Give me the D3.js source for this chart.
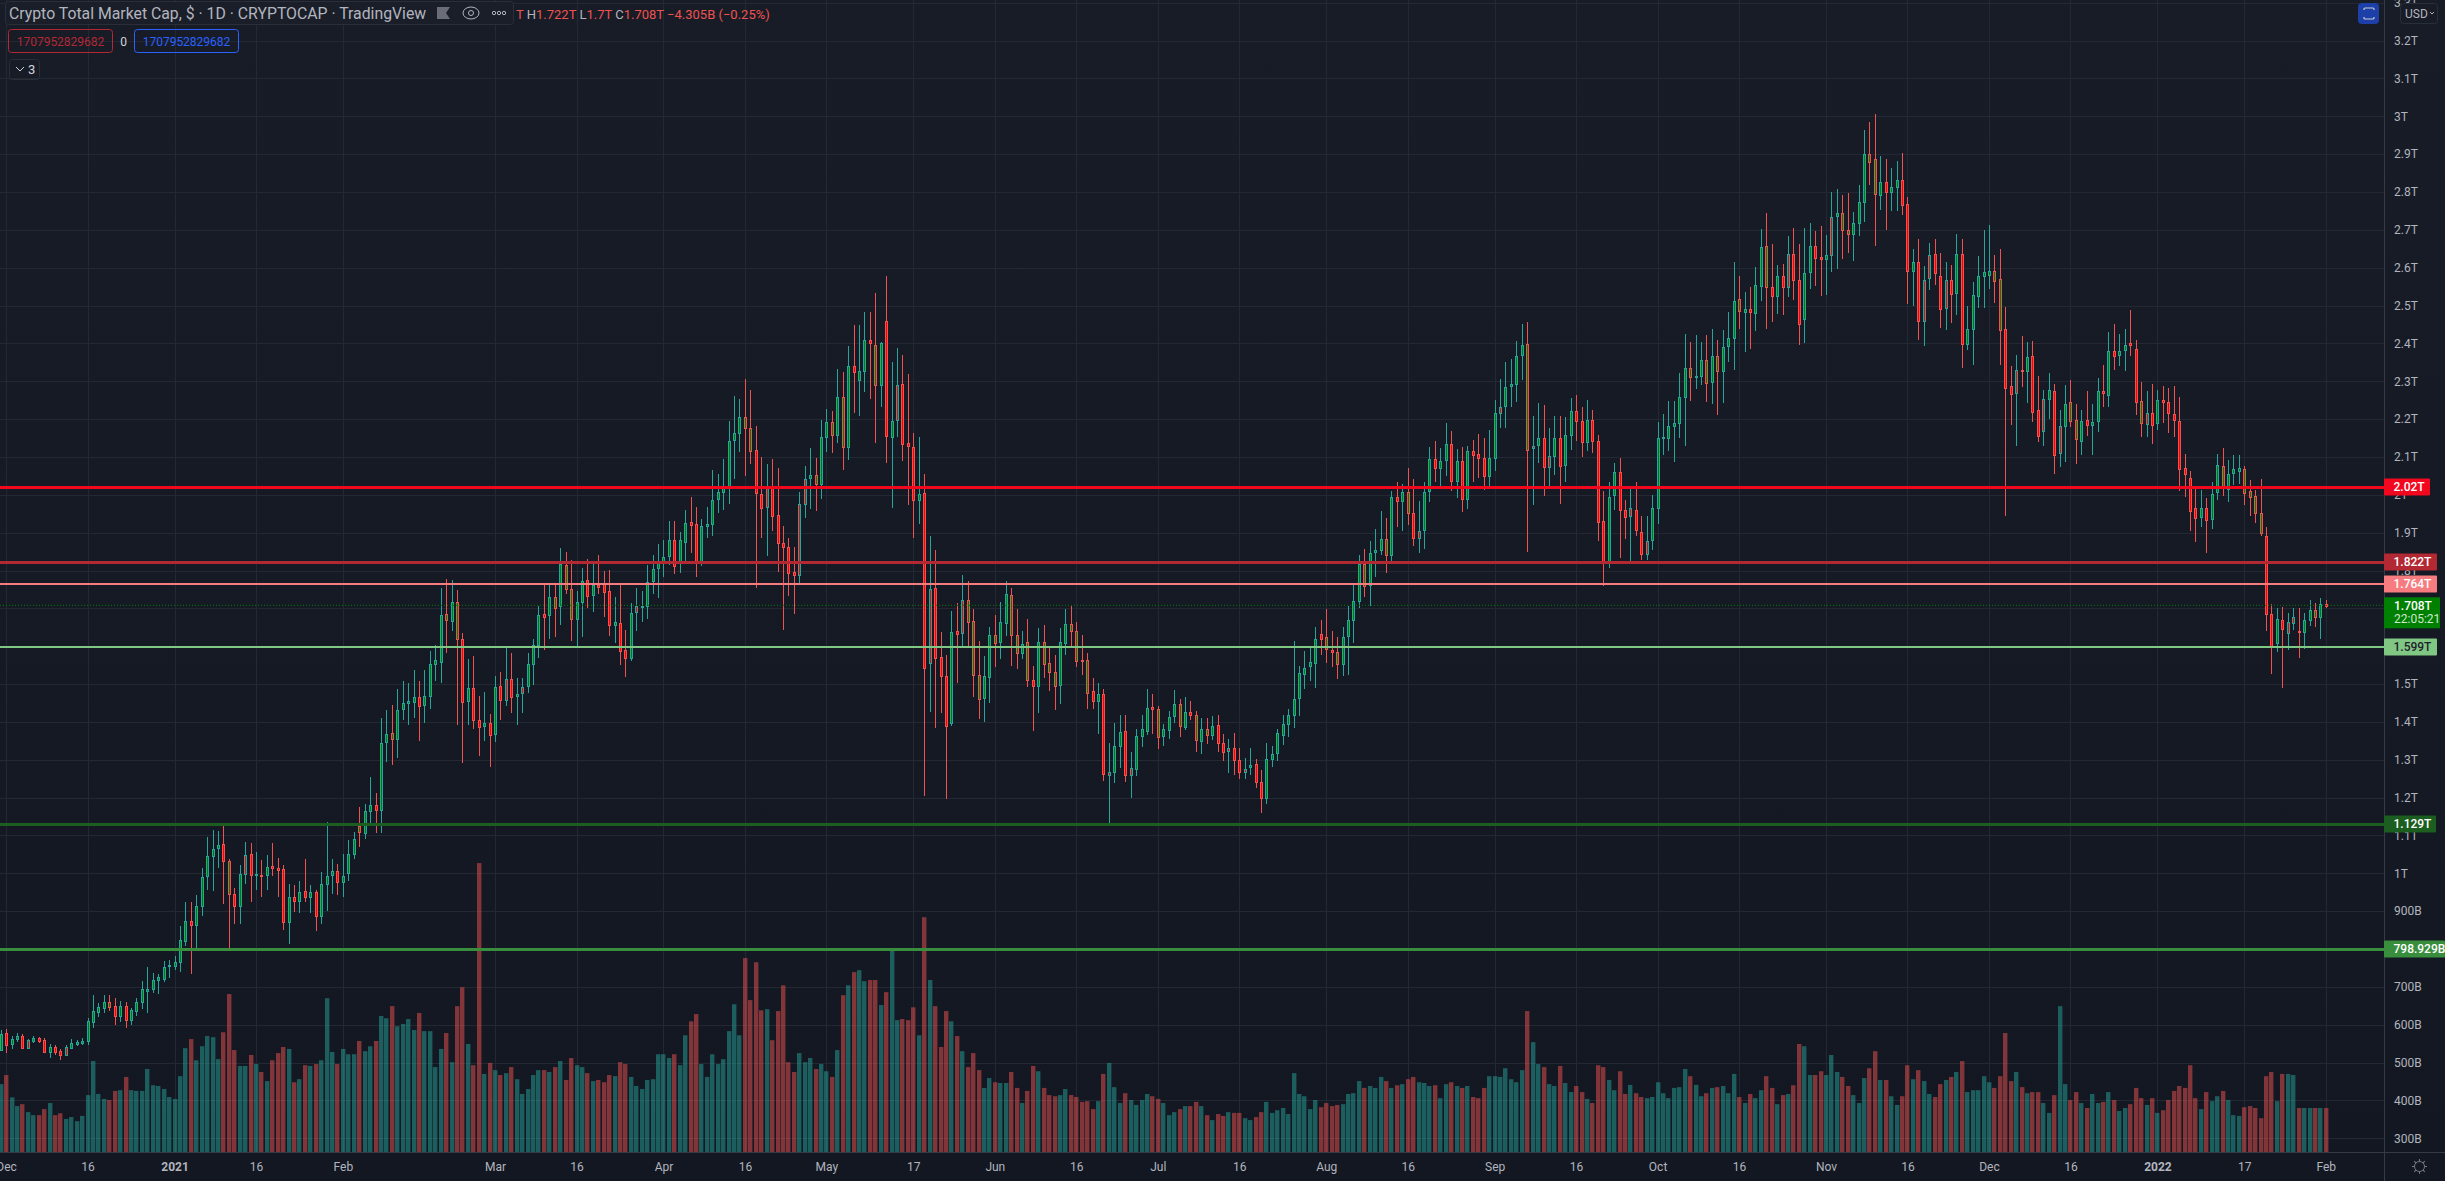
<!DOCTYPE html>
<html>
<head>
<meta charset="utf-8">
<title>Crypto Total Market Cap</title>
<script src="https://cdn.jsdelivr.net/npm/d3@7"></script>
<style>
html, body { margin: 0; padding: 0; background: #131722; overflow: hidden; }
text { font-family: Roboto, "Open Sans", sans-serif; }
</style>
</head>
<body>
<svg id="chart"></svg>
<script>
// one candle per day, 2020-11-30 to 2022-02-01, values in billions of USD
const highs = [
587,589,570,577,576,563,570,567,565,549, 547,535,547,562,560,564,619,678,657,678,
678,670,662,661,644,670,715,752,737,733, 768,770,782,862,925,925,943,1013,1095,1114,
1111,1129,1039,960,1022,1082,1080,1057,1034,1048, 1080,1041,1022,973,969,979,1037,969,957,1003,
1135,1037,1024,1050,1088,1110,1175,1182,1254,1211, 1410,1432,1444,1488,1508,1503,1537,1507,1537,1586,
1602,1753,1777,1775,1749,1635,1567,1574,1468,1478, 1421,1520,1532,1600,1582,1517,1517,1582,1620,1706,
1765,1766,1763,1860,1848,1829,1745,1806,1831,1816, 1842,1800,1802,1731,1764,1642,1713,1753,1746,1814,
1842,1871,1880,1930,1932,1903,1959,1994,1967,1935, 1969,2065,2056,2094,2196,2260,2254,2305,2276,2183,
2099,2081,2094,2072,1918,1887,1862,2007,2076,2124, 2098,2198,2227,2222,2332,2325,2392,2448,2448,2482,
2482,2533,2403,2577,2350,2387,2370,2318,2163,2154, 2056,1890,1853,1637,1577,1694,1715,1787,1771,1698,
1613,1573,1650,1682,1716,1771,1753,1699,1640,1673, 1547,1649,1655,1598,1577,1647,1698,1707,1663,1629,
1581,1517,1504,1487,1344,1396,1418,1418,1320,1380, 1419,1486,1473,1443,1394,1430,1485,1461,1467,1454,
1428,1411,1409,1415,1419,1368,1355,1370,1330,1304, 1331,1301,1272,1344,1337,1380,1417,1435,1613,1549,
1586,1595,1650,1668,1698,1639,1624,1650,1707,1768, 1840,1856,1878,1909,1957,1940,2009,2035,2029,2072,
2042,1983,2035,2127,2141,2123,2189,2168,2120,2127, 2130,2144,2160,2150,2171,2250,2305,2352,2358,2407,
2451,2456,2207,2242,2237,2176,2209,2207,2205,2257, 2263,2231,2250,2223,2159,2009,2033,2083,2096,1987,
2022,2035,1943,1943,2000,2192,2214,2247,2247,2322, 2426,2403,2423,2405,2421,2437,2408,2435,2482,2615,
2577,2537,2550,2601,2703,2744,2663,2608,2611,2683, 2704,2663,2704,2717,2697,2709,2686,2800,2809,2793,
2797,2746,2819,2964,2985,3007,2894,2888,2864,2881, 2904,2788,2650,2677,2605,2666,2676,2638,2615,2606,
2688,2675,2498,2563,2630,2699,2712,2633,2649,2495, 2340,2370,2419,2405,2407,2314,2276,2322,2294,2223,
2289,2302,2239,2225,2274,2241,2309,2342,2430,2451, 2424,2438,2487,2408,2297,2274,2292,2276,2287,2281,
2287,2258,2107,2062,2017,2014,1991,2033,2109,2123, 2091,2104,2104,2075,2038,2013,2043,1916,1712,1700,
1703,1689,1701,1700,1687,1721,1715,1728,1722
];
const lows = [
530,524,536,553,536,536,551,552,526,511, 520,507,518,536,544,546,546,591,621,632,
637,599,606,592,599,622,642,630,683,680, 714,724,744,740,807,735,800,886,957,953,
1013,920,803,866,865,973,923,957,937,957, 992,937,850,812,897,894,923,894,847,866,
901,946,942,938,980,1039,1069,1090,1127,1106, 1106,1293,1285,1305,1405,1393,1409,1350,1396,1435,
1509,1502,1582,1639,1391,1291,1391,1382,1310,1349, 1280,1346,1406,1442,1423,1393,1423,1477,1497,1570,
1591,1619,1624,1655,1738,1614,1594,1624,1701,1690, 1739,1677,1627,1608,1550,1519,1561,1640,1663,1671,
1738,1728,1782,1815,1790,1793,1817,1845,1782,1811, 1886,1891,1952,1959,1975,2041,2112,2050,2082,1755,
1886,1837,1905,1796,1642,1732,1686,1763,1940,1962, 1957,1988,2112,2110,2136,2066,2092,2216,2208,2272,
2254,2137,2231,2083,1966,2152,2089,1973,1885,1922, 1203,1426,1384,1423,1195,1390,1504,1600,1595,1465,
1407,1399,1450,1544,1566,1627,1549,1539,1565,1491, 1376,1423,1516,1481,1431,1447,1576,1595,1544,1524,
1433,1433,1367,1243,1127,1238,1279,1241,1199,1256, 1335,1366,1367,1328,1336,1354,1396,1359,1378,1405,
1320,1316,1342,1352,1320,1296,1264,1260,1250,1249, 1260,1226,1160,1183,1280,1296,1339,1360,1385,1416,
1488,1508,1489,1577,1556,1544,1514,1522,1524,1608, 1700,1729,1707,1782,1840,1793,1824,1914,1904,1919,
1864,1845,1858,1981,2033,2021,2050,2010,1992,1955, 1963,2034,2044,2012,2022,2063,2176,2176,2232,2244,
2302,1849,1974,2083,1997,2021,2052,1975,2035,2118, 2141,2099,2116,2110,1878,1759,1807,1960,1832,1883,
1824,1892,1827,1827,1853,1922,2105,2117,2087,2151, 2128,2248,2280,2290,2245,2240,2210,2242,2350,2329,
2439,2377,2384,2433,2512,2438,2456,2477,2474,2522, 2514,2395,2400,2544,2551,2525,2527,2589,2596,2622,
2638,2618,2685,2721,2818,2657,2752,2699,2749,2749, 2739,2503,2499,2410,2393,2542,2554,2440,2435,2453,
2476,2335,2383,2343,2493,2493,2544,2506,2343,1945, 2184,2128,2284,2242,2192,2139,2128,2200,2055,2074,
2087,2178,2082,2104,2155,2104,2165,2233,2233,2329, 2340,2327,2366,2211,2152,2152,2133,2171,2190,2164,
2153,2009,1994,1904,1875,1914,1845,1909,1986,1996, 1980,2026,2028,1974,1944,1926,1890,1640,1527,1584,
1489,1590,1642,1569,1592,1653,1650,1619,1700
];
const opens = [
534,577,548,562,570,559,556,564,560,528, 541,531,540,539,550,553,555,607,634,644,
648,650,623,649,613,637,658,689,693,717, 721,754,755,765,821,873,862,913,992,1045,
1065,1077,945,945,913,1048,1050,995,996,995, 1019,1015,1011,871,937,926,952,937,950,886,
971,995,1005,976,999,1051,1107,1108,1163,1180, 1167,1346,1355,1355,1434,1452,1455,1467,1444,1468,
1553,1560,1668,1668,1618,1619,1455,1489,1404,1388, 1397,1368,1494,1513,1513,1470,1491,1494,1553,1605,
1685,1681,1700,1704,1751,1673,1673,1716,1775,1737, 1763,1765,1746,1656,1662,1589,1571,1707,1704,1707,
1772,1807,1822,1838,1880,1818,1876,1927,1924,1825, 1918,1923,1989,2008,2023,2145,2164,2177,2116,2119,
2003,2024,2024,1947,1873,1862,1795,1977,2042,2042, 2028,2031,2153,2159,2159,2126,2126,2339,2303,2328,
2409,2290,2290,2460,2155,2291,2293,2137,2127,1986, 2006,1752,1754,1572,1522,1397,1641,1723,1666,1524,
1461,1463,1519,1610,1611,1661,1630,1582,1582,1509, 1512,1495,1553,1532,1495,1497,1608,1640,1563,1564,
1478,1482,1455,1474,1268,1268,1336,1377,1279,1277, 1362,1378,1439,1362,1362,1378,1416,1389,1388,1427,
1350,1349,1365,1365,1392,1345,1330,1330,1300,1276, 1281,1289,1242,1199,1304,1316,1367,1394,1419,1461,
1528,1548,1556,1633,1591,1591,1553,1553,1625,1669, 1720,1760,1762,1849,1854,1841,1841,1994,1984,1952,
1952,1905,1907,2009,2094,2071,2092,2135,2036,2088, 1989,2116,2108,2098,2050,2099,2233,2235,2287,2293,
2369,2118,2129,2131,2151,2103,2103,2151,2079,2159, 2222,2196,2141,2198,2143,1931,1825,1998,2059,1959,
1964,1961,1903,1879,1879,1966,2150,2151,2182,2190, 2259,2311,2314,2314,2295,2298,2328,2328,2393,2414,
2483,2483,2492,2480,2554,2549,2550,2527,2579,2637, 2637,2568,2465,2589,2658,2628,2623,2735,2737,2700,
2689,2689,2719,2773,2880,2793,2793,2827,2801,2814, 2833,2769,2591,2614,2568,2634,2637,2579,2568,2568,
2531,2637,2400,2439,2527,2578,2582,2564,2436,2439, 2288,2331,2331,2328,2368,2225,2252,2254,2275,2183,
2183,2195,2148,2143,2198,2184,2195,2273,2266,2381, 2371,2383,2400,2386,2190,2217,2217,2190,2250,2244,
2214,2196,2072,2045,1966,1941,1964,1936,2008,2018, 2017,2056,2063,2005,1995,1952,1898,1890,1686,1609,
1670,1664,1678,1639,1638,1669,1677,1677,1712
];
const closes = [
575,546,562,570,539,539,565,556,528,540, 528,520,520,551,555,557,609,636,647,661,
661,623,650,613,639,661,693,695,717,725, 752,757,765,824,873,862,913,990,1045,1063,
1074,1031,1032,913,997,998,995,998,993,1016, 1013,1009,871,937,926,950,937,950,886,971,
992,1006,976,992,1050,1090,1124,1165,1180,1168, 1344,1367,1370,1431,1450,1456,1467,1444,1468,1553,
1563,1683,1685,1717,1717,1452,1489,1404,1386,1397, 1364,1491,1457,1457,1465,1475,1476,1553,1602,1683,
1678,1729,1730,1816,1815,1751,1718,1772,1734,1763, 1758,1745,1657,1663,1588,1569,1689,1691,1706,1770,
1805,1823,1836,1880,1812,1880,1926,1920,1825,1918, 1922,1987,2008,2021,2143,2164,2205,2206,2177,2005,
1966,1968,1946,1873,1862,1794,1788,1789,1975,2051, 2051,2154,2193,2193,2259,2259,2339,2323,2328,2409,
2401,2396,2400,2155,2196,2198,2134,2128,1986,2003, 1543,1556,1568,1521,1389,1638,1632,1635,1723,1667,
1525,1520,1630,1630,1665,1737,1736,1630,1607,1610, 1495,1610,1610,1555,1533,1610,1659,1659,1641,1563,
1564,1455,1474,1262,1260,1337,1374,1262,1260,1364, 1380,1438,1434,1435,1380,1413,1448,1448,1427,1418,
1417,1382,1382,1390,1345,1320,1321,1299,1267,1268, 1285,1242,1199,1302,1316,1370,1395,1419,1461,1528,
1543,1559,1620,1620,1623,1585,1585,1625,1668,1720, 1818,1818,1847,1853,1884,1884,1994,1984,2007,2007,
1886,1887,2007,2094,2071,2090,2135,2036,2088,1988, 2116,2105,2097,2050,2098,2217,2218,2286,2292,2368,
2396,2399,2124,2149,2074,2074,2151,2077,2159,2222, 2195,2141,2198,2143,1928,1822,1995,2059,1958,1941,
1944,1907,1844,1844,1964,2151,2152,2182,2191,2259, 2336,2336,2315,2357,2355,2368,2368,2391,2415,2511,
2516,2492,2483,2555,2656,2658,2527,2579,2551,2550, 2568,2452,2587,2658,2627,2623,2634,2635,2745,2745,
2700,2717,2774,2901,2901,2886,2827,2801,2814,2833, 2768,2591,2614,2457,2459,2574,2586,2493,2493,2531,
2635,2400,2439,2529,2579,2588,2592,2590,2571,2282, 2267,2269,2328,2365,2219,2156,2167,2278,2105,2111,
2241,2244,2198,2196,2186,2193,2275,2268,2381,2369, 2381,2396,2395,2247,2247,2187,2185,2250,2246,2216,
2197,2070,2055,1957,1939,1964,1932,2003,2080,2077, 2056,2067,2072,2069,2011,1998,1952,1683,1600,1672,
1647,1635,1663,1637,1669,1695,1695,1712,1708
];
// volume pane values, read against the price axis on the right
const volumes = [
443,467,408,385,390,369,361,361,377,393, 361,366,351,356,345,359,414,504,417,404,
401,425,427,462,427,425,425,483,440,438, 430,409,404,464,538,562,506,543,570,567,
509,580,681,533,491,491,520,496,475,451, 506,525,541,536,448,456,493,491,496,506,
670,528,496,536,522,522,557,530,543,557, 623,617,649,596,602,615,586,631,583,583,
488,536,578,501,649,699,549,493,1027,470, 499,480,467,472,488,456,417,430,467,480,
480,475,488,504,454,512,493,488,472,451, 454,448,467,464,501,496,462,438,430,454,
456,522,522,512,522,493,572,609,628,496, 462,522,496,509,583,654,572,776,665,765,
638,641,559,636,704,501,475,525,501,512, 483,496,477,462,533,678,704,739,744,715,
718,718,652,686,800,612,615,612,646,572, 884,718,649,541,636,609,570,530,488,525,
480,433,459,448,446,446,475,433,393,425, 491,477,433,414,411,414,430,414,409,396,
398,377,398,470,499,435,393,419,401,388, 401,417,411,404,393,361,369,377,385,385,
396,385,361,348,364,359,369,367,367,353, 348,356,369,396,367,374,380,364,472,417,
411,377,401,382,393,385,388,390,417,419, 451,433,438,433,462,451,433,440,443,456,
462,448,446,438,440,406,443,448,438,433, 438,409,406,433,464,464,462,485,456,448,
480,636,554,496,488,443,438,491,446,422, 438,422,404,393,493,488,454,427,477,417,
441,419,409,406,409,448,419,406,433,435, 483,464,441,411,419,433,435,438,419,470,
409,393,417,406,427,464,433,390,414,417, 440,549,543,467,467,477,467,520,475,462,
438,414,393,459,485,530,454,454,411,388, 411,493,456,480,451,417,409,443,454,462,
475,504,422,427,427,464,448,433,464,578, 451,475,435,419,422,422,393,367,414,649,
443,401,422,393,380,417,393,396,422,401, 372,380,390,433,406,388,406,367,374,401,
425,438,433,493,406,377,422,398,411,425, 401,361,359,382,385,380,353,464,475,398,
470,470,467,380,380,380,380,380,380
];
// r / t = colour of wick, border and volume bar
const barSides = (
'trttrttrrt rrtttttttt rrtrtttttt tttttrtttt trrrttrtrt rrrtrtrtrt ttrtttrttr ttrttttrtt ttrtrrtrrt rtrtrttttt ' +
'rtrtrrttrt rrrtrrtttt ttttrttrrt tttttttrrr rtrrrrrttt rttrtrtrtt rrtrttrrrt rtrrrtrtrr rttrttrrtr rtrrrttrrr ' +
'rrtrtttrtt ttrrtttrtr rtrtrrtrrt trrttttttt tttrrrrttt trtttrtrtr rtttrttrtr trrrtttttt trttrttrtt rrtrrrttrr ' +
'trrttttttt trttrtrttt rtrttrrtrt rrttrrtttr rtttrrtrtt rrtrttrrtr trtttttrrr rtrtrrttrt trrtrttrtr ttrrrtrtrr ' +
'rrrrrtrttr tttrrrrrrt rttrttrtr'
).replace(/ /g, '').split('');

const priceTicks = [3300,3200,3100,3000,2900,2800,2700,2600,2500,2400,2300,2200,2100,2000,1900,1800,1700,1600,1500,1400,1300,1200,1100,1000,900,800,700,600,500,400,300];
const timeTickDates = ['2020-12-01','2020-12-16','2021-01-01','2021-01-16','2021-02-01','2021-03-01','2021-03-16','2021-04-01','2021-04-16','2021-05-01','2021-05-17','2021-06-01','2021-06-16','2021-07-01','2021-07-16','2021-08-01','2021-08-16','2021-09-01','2021-09-16','2021-10-01','2021-10-16','2021-11-01','2021-11-16','2021-12-01','2021-12-16','2022-01-01','2022-01-17','2022-02-01'];
const timeTickLabels = ['Dec','16','2021','16','Feb','Mar','16','Apr','16','May','17','Jun','16','Jul','16','Aug','16','Sep','16','Oct','16','Nov','16','Dec','16','2022','17','Feb'];

// horizontal levels drawn on the chart
const levelValues = [2020, 1822, 1764, 1599, 1129, 798.929];
const levelLabels = ['2.02T', '1.822T', '1.764T', '1.599T', '1.129T', '798.929B'];
const levelColors = ['#f2081e', '#b22833', '#f77c80', '#81c784', '#1b5e20', '#388e3c'];
const levelTextColors = ['#fff', '#fff', '#fff', '#1e222d', '#fff', '#fff'];
const levelWidths = [3, 3, 2, 2, 3, 3];
const levelBoxWidths = [46, 53, 53, 53, 52, 61];

const width = 2445, height = 1181;
const plotRight = 2384, paneBottom = 1152;
const RED = '#ef5350', TEAL = '#26a69a', GRID = '#242833', BORDER = '#363a45', AXIS_TEXT = '#b2b5be';

const parseDay = d3.utcParse('%Y-%m-%d');
const firstDay = parseDay('2020-11-30');
const days = d3.utcDay.range(firstDay, d3.utcDay.offset(firstDay, opens.length));

const x = d3.scaleUtc().domain([firstDay, days[days.length - 1]]).range([0.67, 2325.8]);
const y = d3.scaleLinear().domain([3000, 300]).range([116.3, 1138.25]);
const fmtPrice = (v) => v >= 1000 ? (v / 1000) + 'T' : v + 'B';

const svg = d3.select('#chart').attr('width', width).attr('height', height).style('display', 'block');

const defs = svg.append('defs');
const grad = defs.append('linearGradient').attr('id', 'bg').attr('x1', 0).attr('x2', 0).attr('y1', 0).attr('y2', 1);
grad.append('stop').attr('offset', 0).attr('stop-color', '#181c27');
grad.append('stop').attr('offset', 1).attr('stop-color', '#131722');
defs.append('clipPath').attr('id', 'plot').append('rect').attr('width', plotRight).attr('height', paneBottom);

svg.append('rect').attr('width', width).attr('height', height).attr('fill', 'url(#bg)');

// grid
const timeTicks = timeTickDates.map(parseDay);
svg.append('g').attr('class', 'grid').attr('transform', `translate(0,${paneBottom})`)
	.call(d3.axisBottom(x).tickValues(timeTicks).tickSize(-paneBottom).tickFormat(''));
svg.append('g').attr('class', 'grid').attr('transform', `translate(${plotRight},0)`)
	.call(d3.axisLeft(y).tickValues(priceTicks).tickSize(plotRight).tickFormat(''));
svg.selectAll('.grid .domain').remove();
svg.selectAll('.grid line').attr('stroke', GRID).attr('shape-rendering', 'crispEdges');

const plot = svg.append('g').attr('clip-path', 'url(#plot)');

// volume
const bars = d3.range(opens.length);
plot.append('g').selectAll('rect').data(bars).join('rect')
	.attr('x', (i) => Math.round(x(days[i])) - 2)
	.attr('width', 4.4)
	.attr('y', (i) => y(volumes[i]))
	.attr('height', (i) => paneBottom - y(volumes[i]))
	.attr('fill', (i) => barSides[i] === 'r' ? RED : TEAL)
	.attr('fill-opacity', 0.5);

// candles
const candle = plot.append('g').selectAll('g').data(bars).join('g')
	.attr('transform', (i) => `translate(${Math.round(x(days[i]))},0)`);
candle.append('line')
	.attr('x1', 0.5).attr('x2', 0.5)
	.attr('y1', (i) => y(highs[i])).attr('y2', (i) => y(lows[i]))
	.attr('stroke', (i) => barSides[i] === 'r' ? RED : TEAL)
	.attr('shape-rendering', 'crispEdges');
candle.append('rect')
	.attr('x', -0.5).attr('width', 2)
	.attr('y', (i) => Math.round(y(Math.max(opens[i], closes[i]))) + 0.5)
	.attr('height', (i) => Math.max(1, Math.round(Math.abs(y(opens[i]) - y(closes[i])))))
	.attr('fill', (i) => closes[i] >= opens[i] ? '#008000' : '#ff0000')
	.attr('stroke', (i) => barSides[i] === 'r' ? RED : TEAL)
	.attr('shape-rendering', 'crispEdges');

// last price
const lastClose = closes[closes.length - 1];
plot.append('line').attr('x1', 0).attr('x2', plotRight).attr('y1', y(lastClose)).attr('y2', y(lastClose))
	.attr('stroke', '#008000').attr('stroke-dasharray', '1 2');

// levels
plot.append('g').selectAll('line').data(levelValues).join('line')
	.attr('x1', 0).attr('x2', plotRight)
	.attr('y1', (d) => Math.round(y(d))).attr('y2', (d) => Math.round(y(d)))
	.attr('stroke', (d, i) => levelColors[i])
	.attr('stroke-width', (d, i) => levelWidths[i])
	.attr('shape-rendering', 'crispEdges');

// axes
const timeAxis = svg.append('g').attr('transform', `translate(0,${paneBottom})`)
	.call(d3.axisBottom(x).tickValues(timeTicks).tickSize(0).tickPadding(10).tickFormat((d, i) => timeTickLabels[i]));
timeAxis.select('.domain').remove();
timeAxis.selectAll('text').attr('fill', AXIS_TEXT).style('font-size', '12px')
	.style('font-weight', (d, i) => /^20/.test(timeTickLabels[i]) ? 700 : 400);

const priceAxis = svg.append('g').attr('transform', `translate(${plotRight},0)`)
	.call(d3.axisRight(y).tickValues(priceTicks).tickSize(0).tickPadding(10).tickFormat(fmtPrice));
priceAxis.select('.domain').remove();
priceAxis.selectAll('text').attr('fill', AXIS_TEXT).style('font-size', '12px');

svg.append('line').attr('x1', plotRight + 0.5).attr('x2', plotRight + 0.5).attr('y1', 0).attr('y2', height)
	.attr('stroke', BORDER).attr('shape-rendering', 'crispEdges');
svg.append('line').attr('x1', 0).attr('x2', width).attr('y1', paneBottom + 0.5).attr('y2', paneBottom + 0.5)
	.attr('stroke', BORDER).attr('shape-rendering', 'crispEdges');

// price tags
const tags = svg.append('g').selectAll('g').data(levelValues).join('g')
	.attr('transform', (d) => `translate(${plotRight},${Math.round(y(d))})`);
tags.append('rect').attr('y', -8.5).attr('height', 17).attr('rx', 1)
	.attr('width', (d, i) => levelBoxWidths[i])
	.attr('fill', (d, i) => levelColors[i]);
tags.append('text').attr('x', 9.5).attr('dy', '0.36em')
	.attr('fill', (d, i) => levelTextColors[i])
	.style('font-size', '12px').style('font-weight', 500)
	.text((d, i) => levelLabels[i]);

const lastTag = svg.append('g').attr('transform', `translate(${plotRight},${y(lastClose)})`);
lastTag.append('rect').attr('y', -8).attr('width', 56).attr('height', 31).attr('fill', '#008000');
lastTag.append('text').attr('x', 10).attr('y', 5).attr('fill', '#fff')
	.style('font-size', '12px').style('font-weight', 500).text('1.708T');
lastTag.append('text').attr('x', 10).attr('y', 18).attr('fill', '#cfe6cf')
	.style('font-size', '12px').text('22:05:21');

// legend, top left
const legend = svg.append('g');
legend.append('rect').attr('x', 5.5).attr('y', 1.5).attr('width', 508).attr('height', 23).attr('rx', 3)
	.attr('fill', '#1a1e29').attr('stroke', '#2a2e39');
legend.append('text').attr('x', 9).attr('y', 19).attr('fill', '#b2b5be').style('font-size', '15.8px')
	.text('Crypto Total Market Cap, $ · 1D · CRYPTOCAP · TradingView');
legend.append('path').attr('d', 'M437 7h13l-4 6 4 6h-13z').attr('fill', '#6a6d78');
legend.append('ellipse').attr('cx', 471).attr('cy', 13).attr('rx', 8).attr('ry', 6).attr('fill', 'none').attr('stroke', '#b2b5be');
legend.append('circle').attr('cx', 471).attr('cy', 13).attr('r', 2.5).attr('fill', 'none').attr('stroke', '#b2b5be');
legend.selectAll('.dot').data([494, 499, 504]).join('circle').attr('class', 'dot')
	.attr('cx', (d) => d).attr('cy', 13).attr('r', 1.7).attr('fill', 'none').attr('stroke', '#b2b5be');

const ohlc = legend.append('text').attr('x', 516).attr('y', 19).style('font-size', '13px').attr('fill', RED);
[['T ', RED], ['H', AXIS_TEXT], ['1.722T ', RED], ['L', AXIS_TEXT], ['1.7T ', RED], ['C', AXIS_TEXT], ['1.708T −4.305B (−0.25%)', RED]]
	.forEach(([t, c]) => ohlc.append('tspan').attr('fill', c).text(t));

const inputs = svg.append('g');
inputs.append('rect').attr('x', 8.5).attr('y', 29.5).attr('width', 104).attr('height', 23).attr('rx', 3)
	.attr('fill', 'none').attr('stroke', '#b22833');
inputs.append('text').attr('x', 60.5).attr('y', 46).attr('text-anchor', 'middle').attr('fill', '#b22833')
	.style('font-size', '12px').text('1707952829682');
inputs.append('text').attr('x', 123.5).attr('y', 46).attr('text-anchor', 'middle').attr('fill', '#d1d4dc')
	.style('font-size', '12px').text('0');
inputs.append('rect').attr('x', 134.5).attr('y', 29.5).attr('width', 104).attr('height', 23).attr('rx', 3)
	.attr('fill', 'none').attr('stroke', '#2962ff');
inputs.append('text').attr('x', 186.5).attr('y', 46).attr('text-anchor', 'middle').attr('fill', '#2962ff')
	.style('font-size', '12px').text('1707952829682');
inputs.append('rect').attr('x', 9.5).attr('y', 59.5).attr('width', 30).attr('height', 20).attr('rx', 3)
	.attr('fill', 'none').attr('stroke', '#2a2e39');
inputs.append('path').attr('d', 'M16 67l4 4 4-4').attr('fill', 'none').attr('stroke', '#d1d4dc');
inputs.append('text').attr('x', 28).attr('y', 74).attr('fill', '#d1d4dc').style('font-size', '13px').text('3');

// top right buttons
svg.append('rect').attr('x', 2358).attr('y', 3).attr('width', 21).attr('height', 21).attr('rx', 4).attr('fill', '#1c3fa8');
svg.append('path').attr('d', 'M2364 10v-1q0-1 1-1h8q1 0 1 1v1M2364 17v1q0 1 1 1h8q1 0 1-1v-1')
	.attr('fill', 'none').attr('stroke', '#c9cbd3').attr('stroke-width', 1.2);
svg.append('rect').attr('x', 2400.5).attr('y', 3.5).attr('width', 37).attr('height', 20).attr('rx', 3)
	.attr('fill', '#181c27').attr('stroke', '#2a2e39');
svg.append('text').attr('x', 2405).attr('y', 18).attr('fill', '#b2b5be').style('font-size', '12px').text('USD');
svg.append('path').attr('d', 'M2430 12l2 2 2-2').attr('fill', 'none').attr('stroke', '#b2b5be');

// settings gear
const gear = svg.append('g').attr('transform', 'translate(2419.5,1166.5)').attr('stroke', '#787b86').attr('fill', 'none');
gear.append('circle').attr('r', 5);
gear.selectAll('line').data(d3.range(0, 360, 45)).join('line')
	.attr('y1', -5).attr('y2', -7.5).attr('transform', (d) => `rotate(${d})`);
</script>
</body>
</html>
